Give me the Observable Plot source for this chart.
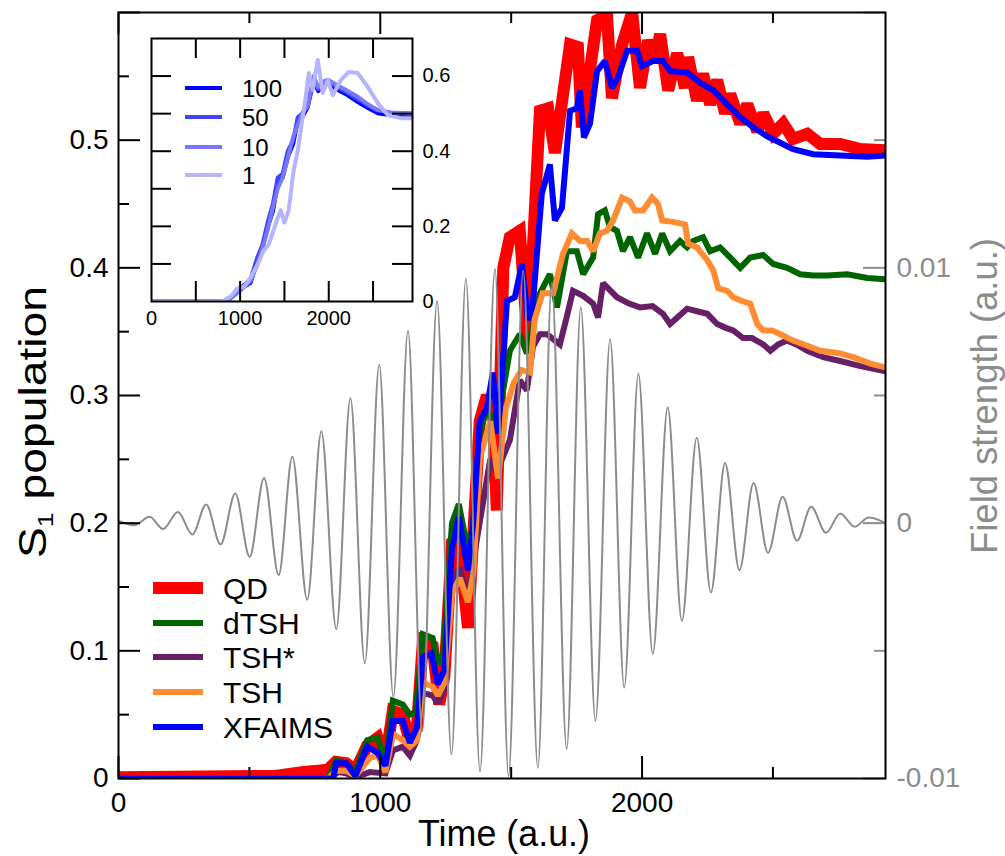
<!DOCTYPE html>
<html><head><meta charset="utf-8">
<script src="https://cdn.jsdelivr.net/npm/d3@7"></script>
<script src="https://cdn.jsdelivr.net/npm/@observablehq/plot@0.6"></script>
<style>
body{margin:0;background:#fff;}
#wrap{position:relative;width:1005px;height:856px;overflow:hidden;}
#wrap svg{position:absolute;left:0;top:0;}
</style>
</head><body><div id="wrap"></div>
<script>
// ---------- data ----------
const qdT = [0,600,700,760,800,830,870,905,950,990,1020,1048,1086,1113,1140,1163,1200,1225,1245,1274,1300,1335,1355,1380,1407,1430,1445,1470,1495,1533,1564,1610,1641,1667,1725,1755,1770,1828,1866,1885,1924,1962,1992,2023,2050,2069,2100,2134,2164,2176,2210,2233,2260,2287,2317,2337,2375,2402,2440,2463,2501,2539,2577,2631,2681,2757,2834,2930];
const qdV = [0.001,0.002,0.005,0.006,0.007,0.013,0.012,0.006,0.026,0.032,0.014,0.053,0.05,0.028,0.04,0.108,0.104,0.058,0.08,0.185,0.19,0.118,0.19,0.28,0.30,0.29,0.21,0.40,0.424,0.429,0.34,0.523,0.525,0.49,0.575,0.573,0.51,0.594,0.598,0.533,0.575,0.6,0.541,0.578,0.562,0.583,0.539,0.568,0.541,0.565,0.531,0.552,0.528,0.547,0.521,0.536,0.513,0.528,0.507,0.521,0.505,0.513,0.501,0.505,0.497,0.497,0.493,0.492];

const dtshT = [0,800,832,870,905,950,990,1020,1048,1086,1113,1135,1163,1200,1220,1240,1274,1300,1335,1355,1380,1407,1445,1495,1533,1560,1610,1648,1675,1713,1751,1775,1813,1832,1858,1877,1904,1927,1954,1985,2019,2050,2077,2107,2145,2172,2195,2233,2260,2298,2337,2375,2413,2463,2501,2554,2604,2654,2707,2784,2860,2930];
const dtshV = [0,0,0.014,0.012,0.005,0.03,0.032,0.012,0.061,0.058,0.05,0.052,0.113,0.11,0.09,0.095,0.2,0.215,0.178,0.2,0.27,0.29,0.275,0.335,0.348,0.333,0.38,0.395,0.369,0.413,0.413,0.395,0.408,0.442,0.445,0.432,0.429,0.413,0.424,0.408,0.427,0.411,0.427,0.413,0.421,0.416,0.421,0.424,0.413,0.416,0.408,0.40,0.408,0.41,0.403,0.40,0.395,0.394,0.394,0.395,0.392,0.391];

const tshsT = [0,800,840,870,905,960,1020,1048,1086,1113,1140,1163,1200,1220,1245,1274,1304,1335,1355,1420,1445,1495,1533,1560,1583,1610,1637,1686,1713,1736,1775,1813,1832,1851,1904,1950,1992,2040,2080,2107,2140,2172,2210,2249,2287,2320,2348,2386,2420,2463,2490,2520,2554,2590,2631,2692,2757,2834,2930];
const tshsV = [0,0,0.005,0.004,0.001,0.005,0.004,0.022,0.025,0.018,0.03,0.067,0.065,0.059,0.07,0.155,0.165,0.14,0.17,0.25,0.24,0.265,0.312,0.304,0.338,0.348,0.348,0.34,0.362,0.382,0.378,0.372,0.361,0.388,0.377,0.372,0.369,0.37,0.364,0.356,0.362,0.368,0.366,0.364,0.356,0.353,0.351,0.345,0.345,0.34,0.335,0.34,0.343,0.34,0.335,0.33,0.327,0.323,0.319];

const tshT = [0,800,832,870,905,960,990,1020,1048,1086,1113,1140,1163,1200,1220,1245,1274,1304,1335,1355,1380,1420,1450,1480,1510,1540,1572,1590,1620,1660,1698,1732,1763,1790,1813,1839,1866,1889,1924,1954,1973,2004,2038,2061,2077,2119,2164,2176,2210,2249,2272,2291,2325,2348,2382,2413,2440,2463,2497,2528,2577,2631,2681,2757,2807,2872,2930];
const tshV = [0,0,0.006,0.006,0.002,0.016,0.018,0.005,0.035,0.03,0.025,0.03,0.075,0.072,0.065,0.075,0.145,0.157,0.138,0.16,0.25,0.28,0.235,0.29,0.31,0.32,0.318,0.36,0.38,0.38,0.411,0.427,0.421,0.421,0.413,0.427,0.429,0.437,0.455,0.452,0.445,0.445,0.455,0.45,0.437,0.436,0.434,0.419,0.416,0.406,0.398,0.384,0.382,0.377,0.374,0.372,0.356,0.351,0.351,0.348,0.343,0.339,0.335,0.333,0.33,0.325,0.322];

const xfT = [0,820,832,870,905,950,990,1020,1048,1086,1113,1140,1163,1195,1220,1245,1274,1300,1335,1355,1380,1407,1430,1450,1484,1514,1541,1564,1583,1617,1648,1667,1694,1725,1751,1763,1778,1801,1828,1858,1885,1908,1943,1981,2000,2042,2080,2107,2172,2222,2272,2325,2375,2425,2478,2528,2577,2654,2757,2860,2930];
const xfV = [0,0,0.012,0.012,0.002,0.025,0.02,0.01,0.045,0.045,0.028,0.04,0.095,0.098,0.074,0.085,0.18,0.205,0.163,0.2,0.28,0.29,0.318,0.27,0.374,0.377,0.403,0.359,0.372,0.458,0.481,0.437,0.447,0.523,0.525,0.539,0.502,0.513,0.554,0.562,0.541,0.549,0.570,0.570,0.558,0.562,0.562,0.554,0.553,0.545,0.539,0.528,0.518,0.51,0.503,0.498,0.493,0.489,0.488,0.487,0.488];

// laser field: extrema (right axis)
const fieldT = [0,61,119,170,227,282,335,390,446,501,556,612,664,721,775,832,886,941,996,1050,1106,1160,1217,1272,1327,1381,1438,1490,1546,1602,1655,1712,1766,1822,1878,1932,1986,2041,2098,2152,2209,2263,2317,2372,2426,2481,2537,2592,2646,2703,2757,2812,2866,2930];
const fieldV = [0.0001,-0.00008,0.00025,-0.00023,0.00044,-0.00044,0.00073,-0.00083,0.00116,-0.00132,0.00177,-0.00203,0.0026,-0.0030,0.0036,-0.00415,0.0049,-0.00548,0.0062,-0.00679,0.00754,-0.00816,0.0087,-0.00906,0.00956,-0.00972,0.00995,-0.0099,0.0099,-0.00958,0.0094,-0.00884,0.00845,-0.00774,0.0072,-0.00644,0.00585,-0.00512,0.00454,-0.00383,0.00335,-0.00271,0.00236,-0.00184,0.00157,-0.00116,0.00103,-0.00069,0.00064,-0.00038,0.00038,-0.00014,0.00022,0.0];

// inset: number of trajectories
const in100T = [0,850,950,1050,1118,1198,1250,1310,1370,1424,1480,1537,1600,1650,1700,1763,1830,1880,1930,1989,2102,2215,2328,2441,2554,2700,2945];
const in100V = [0,0,0.02,0.04,0.05,0.11,0.14,0.198,0.24,0.315,0.33,0.384,0.42,0.483,0.49,0.517,0.589,0.56,0.57,0.581,0.563,0.549,0.531,0.515,0.501,0.496,0.496];
const in50V  = [0,0,0.025,0.045,0.06,0.12,0.15,0.21,0.26,0.33,0.34,0.40,0.43,0.49,0.50,0.53,0.59,0.565,0.58,0.585,0.57,0.555,0.538,0.522,0.508,0.502,0.50];
const in10V  = [0,0,0.02,0.04,0.055,0.10,0.14,0.19,0.25,0.30,0.33,0.38,0.44,0.47,0.50,0.52,0.60,0.57,0.585,0.59,0.575,0.56,0.545,0.525,0.51,0.503,0.50];
const in1T = [0,800,900,970,1050,1118,1200,1266,1320,1378,1420,1458,1500,1548,1604,1650,1684,1740,1774,1819,1876,1932,1989,2045,2136,2226,2328,2441,2554,2667,2813,2945];
const in1V = [0,0,0.015,0.035,0.04,0.064,0.10,0.136,0.15,0.19,0.22,0.243,0.21,0.243,0.35,0.40,0.456,0.544,0.608,0.563,0.643,0.555,0.589,0.549,0.589,0.611,0.608,0.571,0.528,0.496,0.488,0.488];

// tick labels
const xLabels = [0,1000,2000];
const yLabels = [0,0.1,0.2,0.3,0.4,0.5];
const fLabels = [-0.01,0,0.01];
const insetXLabels = [0,1000,2000];
const insetYLabels = [0,0.2,0.4,0.6];

const seriesNames = ["QD","dTSH","TSH*","TSH","XFAIMS"];
const seriesColors = ["#ff0000","#006400","#671f67","#ff8c32","#0000ff"];
const seriesWidths = [12,6,6,6,6];
const insetNames = ["100","50","10","1"];
const insetColors = ["#0000ff","#4444ff","#7878ff","#b4b4ff"];

// ---------- build tables ----------
const mk = (T,V) => T.map((t,i)=>({t, v:V[i]}));
const series = [mk(qdT,qdV), mk(dtshT,dtshV), mk(tshsT,tshsV), mk(tshT,tshV), mk(xfT,xfV)];
const field = mk(fieldT, fieldV);
const insetSeries = [mk(in100T,in100V), mk(in100T,in50V), mk(in100T,in10V), mk(in1T,in1V)];

const FONT = "'Liberation Sans', Arial, Helvetica, sans-serif";
const GREY = "#8c8c8c";
const fieldToY = d3.scaleLinear([-0.01,0.02],[0,0.6]);

const W = 1005, H = 856, mL = 118, mR = 120, mT = 12, mB = 78;
const fW = W - mL - mR, fH = H - mT - mB;
const d3range = (a,b,s) => d3.range(a, b + s/2, s).map(v => +v.toFixed(6));
const xMaj = [0,1000,2000], xMin = [500,1500,2500];
const yMaj = d3range(0,0.6,0.1), yMin = d3range(0.05,0.55,0.1);
const fMaj = [-0.01,0,0.01,0.02], fMin = [-0.005,0.005,0.015];
const fmtY = d => d === 0 ? "0" : d3.format(".1f")(d);
const fmtF = d => { const v = +fieldToY.invert(d).toFixed(4); return v === 0 ? "0" : String(v); };

const lineMarks = series.map((data,i) => Plot.line(data, {x:"t", y:"v", stroke: seriesColors[i], strokeWidth: seriesWidths[i], strokeLinejoin:"miter", strokeMiterlimit: 2, clip: true}));

const main = Plot.plot({
  width: W, height: H,
  marginLeft: mL, marginRight: mR, marginTop: mT, marginBottom: mB,
  x: {domain: [0, 2930]},
  y: {domain: [0, 0.6]},
  style: {fontFamily: FONT, fontSize: "28px", color: "black", background: "transparent"},
  marks: [
    ...lineMarks,
    Plot.line(field, {x:"t", y: d => fieldToY(d.v), stroke: GREY, strokeWidth: 2, curve: "monotone-x", clip: true}),
    // inward ticks
    Plot.tickX(xMaj, {x: d=>d, insetTop: fH-22, stroke:"black", strokeWidth:2}),
    Plot.tickX(xMin, {x: d=>d, insetTop: fH-11, stroke:"black", strokeWidth:2}),
    Plot.tickX(xMaj, {x: d=>d, insetBottom: fH-22, stroke:"black", strokeWidth:2}),
    Plot.tickX(xMin, {x: d=>d, insetBottom: fH-11, stroke:"black", strokeWidth:2}),
    Plot.tickY(yMaj, {y: d=>d, insetRight: fW-22, stroke:"black", strokeWidth:2}),
    Plot.tickY(yMin, {y: d=>d, insetRight: fW-11, stroke:"black", strokeWidth:2}),
    Plot.tickY(fMaj.map(fieldToY), {y: d=>d, insetLeft: fW-22, stroke: GREY, strokeWidth:2}),
    Plot.tickY(fMin.map(fieldToY), {y: d=>d, insetLeft: fW-11, stroke: GREY, strokeWidth:2}),
    Plot.frame({stroke:"black", strokeWidth:2}),
    Plot.axisX(xLabels, {tickSize:0, tickPadding:14, fontSize:28, tickFormat: d=>String(d), label:null}),
    Plot.axisY(yLabels, {anchor:"left", tickSize:0, tickPadding:10, fontSize:28, tickFormat: fmtY, label:null}),
    Plot.axisY(fLabels.map(fieldToY), {anchor:"right", tickSize:0, tickPadding:11, fontSize:28, tickFormat: fmtF, fill: GREY, label:null})
  ]
});
document.getElementById("wrap").appendChild(main);

// axis titles and legend
const svg = d3.select(main);
svg.append("text").attr("x", 504).attr("y", 846).attr("text-anchor","middle")
  .attr("font-family", FONT).attr("font-size", 36).attr("fill","black")
  .attr("textLength", 172).attr("lengthAdjust","spacingAndGlyphs").text("Time (a.u.)");
const yt = svg.append("text").attr("transform","translate(46,422) rotate(-90)").attr("text-anchor","middle")
  .attr("font-family", FONT).attr("font-size", 38).attr("fill","black")
  .attr("textLength", 272).attr("lengthAdjust","spacingAndGlyphs");
yt.append("tspan").text("S");
yt.append("tspan").attr("font-size", 22).attr("dy", 7).text("1");
yt.append("tspan").attr("dy", -7).text(" population");
svg.append("text").attr("transform","translate(997,396) rotate(-90)").attr("text-anchor","middle")
  .attr("font-family", FONT).attr("font-size", 37).attr("fill", GREY)
  .attr("textLength", 316).attr("lengthAdjust","spacingAndGlyphs").text("Field strength (a.u.)");

const legY = [588,623,657,692,727];
seriesNames.forEach((n,i) => {
  svg.append("line").attr("x1",153).attr("x2",203).attr("y1",legY[i]).attr("y2",legY[i])
    .attr("stroke", seriesColors[i]).attr("stroke-width", seriesWidths[i]);
  svg.append("text").attr("x",223).attr("y",legY[i]).attr("dy","0.36em").attr("text-anchor","start")
    .attr("font-family", FONT).attr("font-size", 30).attr("fill","black").text(n);
});

// ---------- inset ----------
const iL = 10, iT = 10, iR = 50, iB = 30, iW = 261, iH = 263;
const ixTicks = [500,1000,1500,2000,2500];
const iyTicks = d3range(0.1,0.6,0.1);
const inset = Plot.plot({
  width: iL+iW+iR, height: iT+iH+iB,
  marginLeft: iL, marginRight: iR, marginTop: iT, marginBottom: iB,
  x: {domain: [0, 2945]},
  y: {domain: [0, 0.7]},
  style: {fontFamily: FONT, fontSize: "20px", color: "black", background: "transparent"},
  marks: [
    ...insetSeries.map((data,i) => Plot.line(data, {x:"t", y:"v", stroke: insetColors[i], strokeWidth: 4, clip: true})),
    Plot.tickX(ixTicks, {x:d=>d, insetTop: iH-20, stroke:"black", strokeWidth:2}),
    Plot.tickX(ixTicks, {x:d=>d, insetBottom: iH-20, stroke:"black", strokeWidth:2}),
    Plot.tickY(iyTicks, {y:d=>d, insetRight: iW-20, stroke:"black", strokeWidth:2}),
    Plot.tickY(iyTicks, {y:d=>d, insetLeft: iW-20, stroke:"black", strokeWidth:2}),
    Plot.frame({stroke:"black", strokeWidth:2}),
    Plot.axisX(insetXLabels, {tickSize:0, tickPadding:9, fontSize:20, tickFormat: d=>String(d), label:null}),
    Plot.axisY(insetYLabels, {anchor:"right", tickSize:0, tickPadding:10, fontSize:20, tickFormat: d=> d===0?"0":d3.format(".1f")(d), label:null})
  ]
});
inset.style.left = "141px";
inset.style.top = "28px";
document.getElementById("wrap").appendChild(inset);

const isvg = d3.select(inset);
const iLegY = [88,117,147,175];
insetNames.forEach((n,i) => {
  isvg.append("line").attr("x1",185-141).attr("x2",222-141).attr("y1",iLegY[i]-28).attr("y2",iLegY[i]-28)
    .attr("stroke", insetColors[i]).attr("stroke-width", 4);
  isvg.append("text").attr("x",242-141).attr("y",iLegY[i]-28).attr("dy","0.36em").attr("text-anchor","start")
    .attr("font-family", FONT).attr("font-size", 24).attr("fill","black").text(n);
});
</script></body></html>
